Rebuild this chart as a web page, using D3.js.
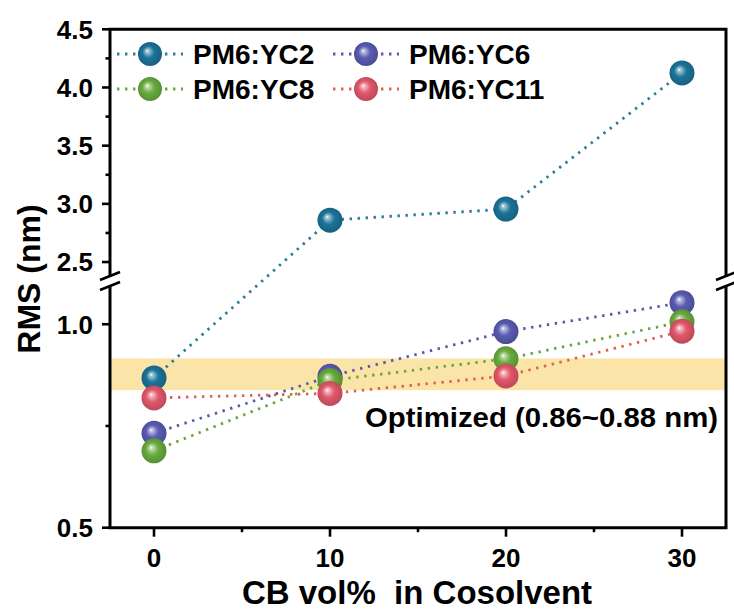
<!DOCTYPE html>
<html>
<head>
<meta charset="utf-8">
<script src="https://cdn.jsdelivr.net/npm/d3@7"></script>
<style>
  html, body { margin: 0; padding: 0; background: #fff; }
  svg { display: block; font-family: "Liberation Sans", Arial, sans-serif; font-weight: bold; }
</style>
</head>
<body>
<div id="chart"></div>
<script>
// ---------- data ----------
const cbVol = [0, 10, 20, 30];
const seriesNames = ["PM6:YC2", "PM6:YC6", "PM6:YC8", "PM6:YC11"];
const yc2  = [0.868, 2.86, 2.955, 4.125];
const yc6  = [0.732, 0.872, 0.982, 1.053];
const yc8  = [0.689, 0.862, 0.915, 1.006];
const yc11 = [0.819, 0.830, 0.873, 0.983];
const seriesColors = ["#1b7499", "#5a5cb3", "#69ac3f", "#e2586b"];
const lineColors   = ["#2a7b9c", "#5a58a8", "#6aa63c", "#e0604f"];
const xTicks = [0, 10, 20, 30];
const xMinorTicks = [5, 15, 25];
const yUpperTicks = [2.5, 3.0, 3.5, 4.0, 4.5];
const yUpperMinor = [2.75, 3.25, 3.75, 4.25];
const yLowerTicks = [0.5, 1.0];
const yLowerMinor = [0.75];
const optimizedBand = [0.838, 0.916];
const bandLabel = "Optimized (0.86~0.88 nm)";
const xTitle = "CB vol%\u00a0 in Cosolvent";
const yTitle = "RMS (nm)";

const allSeries = [yc2, yc6, yc8, yc11];

// ---------- layout ----------
const W = 734, H = 613;
const pL = 110, pR = 726, pT = 29.3, pB = 527.7;
const upperBottom = 276, lowerTop = 286;

const svg = d3.select("#chart").append("svg").attr("width", W).attr("height", H);

const x = d3.scaleLinear().domain([-2.5, 32.5]).range([pL, pR]);
const yU = d3.scaleLinear().domain([2.38, 4.5]).range([upperBottom, pT]);
const yL = d3.scaleLinear().domain([0.5, 1.094]).range([pB, lowerTop]);
const y = v => (v >= 2 ? yU(v) : yL(v));

// gradients
const defs = svg.append("defs");
seriesColors.forEach((c, i) => {
  const g = defs.append("radialGradient").attr("id", "sph" + i)
    .attr("cx", "50%").attr("cy", "50%").attr("r", "55%")
    .attr("fx", "38%").attr("fy", "36%");
  const base = d3.color(c);
  g.append("stop").attr("offset", "0%").attr("stop-color", "#ffffff");
  g.append("stop").attr("offset", "14%").attr("stop-color", d3.interpolateRgb("#ffffff", c)(0.45));
  g.append("stop").attr("offset", "45%").attr("stop-color", c);
  g.append("stop").attr("offset", "100%").attr("stop-color", base.darker(0.6));
});

// band
svg.append("rect")
  .attr("x", pL).attr("width", pR - pL)
  .attr("y", yL(optimizedBand[1]))
  .attr("height", yL(optimizedBand[0]) - yL(optimizedBand[1]))
  .attr("fill", "#fbe4a8");

// lines
const line = d3.line().x((d, i) => x(cbVol[i])).y(d => y(d));
allSeries.forEach((s, i) => {
  svg.append("path").attr("d", line(s))
    .attr("fill", "none").attr("stroke", lineColors[i])
    .attr("stroke-width", 2.8).attr("stroke-dasharray", "2.4,5.6");
});

// markers
allSeries.forEach((s, i) => {
  svg.append("g").selectAll("circle").data(s).join("circle")
    .attr("cx", (d, j) => x(cbVol[j])).attr("cy", d => y(d))
    .attr("r", 12.5).attr("fill", `url(#sph${i})`);
});

// axes lines
const axisG = svg.append("g").attr("stroke", "#000").attr("stroke-width", 3).attr("fill", "none");
axisG.append("path").attr("d", `M${pL},${upperBottom} V${pT} H${pR} V${upperBottom}`);
axisG.append("path").attr("d", `M${pL},${lowerTop} V${pB} H${pR} V${lowerTop}`);
// break marks
[pL, pR].forEach(bx => {
  [upperBottom, lowerTop].forEach(by => {
    axisG.append("line").attr("x1", bx - 10).attr("y1", by + 4).attr("x2", bx + 10).attr("y2", by - 4)
      .attr("stroke-width", 2.6);
  });
});

// ticks
const tickG = svg.append("g").attr("stroke", "#000").attr("stroke-width", 2.6);
yUpperTicks.forEach(v => tickG.append("line").attr("x1", pL - 8).attr("x2", pL).attr("y1", yU(v)).attr("y2", yU(v)));
yUpperMinor.forEach(v => tickG.append("line").attr("x1", pL - 4.5).attr("x2", pL).attr("y1", yU(v)).attr("y2", yU(v)));
yLowerTicks.forEach(v => tickG.append("line").attr("x1", pL - 8).attr("x2", pL).attr("y1", yL(v)).attr("y2", yL(v)));
yLowerMinor.forEach(v => tickG.append("line").attr("x1", pL - 4.5).attr("x2", pL).attr("y1", yL(v)).attr("y2", yL(v)));
xTicks.forEach(v => tickG.append("line").attr("x1", x(v)).attr("x2", x(v)).attr("y1", pB).attr("y2", pB + 9));
xMinorTicks.forEach(v => tickG.append("line").attr("x1", x(v)).attr("x2", x(v)).attr("y1", pB).attr("y2", pB + 4.5));

// tick labels
const fmt = d3.format(".1f");
const labG = svg.append("g").attr("font-size", 26).attr("fill", "#000");
yUpperTicks.forEach(v => labG.append("text").attr("x", 93).attr("y", yU(v)).attr("dy", "0.36em").attr("text-anchor", "end").text(fmt(v)));
yLowerTicks.forEach(v => labG.append("text").attr("x", 93).attr("y", yL(v)).attr("dy", "0.36em").attr("text-anchor", "end").text(fmt(v)));
xTicks.forEach(v => labG.append("text").attr("x", x(v)).attr("y", 567).attr("text-anchor", "middle").text(v));

// titles
svg.append("text").attr("x", 417).attr("y", 604).attr("text-anchor", "middle")
  .attr("font-size", 33).text(xTitle);
svg.append("text").attr("transform", "translate(40,279) rotate(-90)").attr("text-anchor", "middle")
  .attr("font-size", 32).text(yTitle);

// band label
svg.append("text").attr("x", 365).attr("y", 427).attr("font-size", 27)
  .attr("textLength", 353).attr("lengthAdjust", "spacingAndGlyphs").text(bandLabel);

// legend
const legPos = [[150, 54], [366, 54], [150, 89], [366, 89]];
seriesNames.forEach((n, i) => {
  const [lx, ly] = legPos[i];
  const g = svg.append("g");
  g.append("line").attr("x1", lx - 33).attr("x2", lx + 33).attr("y1", ly).attr("y2", ly)
    .attr("stroke", lineColors[i]).attr("stroke-width", 2.8).attr("stroke-dasharray", "2.4,5.6");
  g.append("circle").attr("cx", lx).attr("cy", ly).attr("r", 12).attr("fill", `url(#sph${i})`);
  g.append("text").attr("x", lx + 43).attr("y", ly).attr("dy", "0.36em")
    .attr("font-size", 28).text(n);
});
</script>
</body>
</html>
